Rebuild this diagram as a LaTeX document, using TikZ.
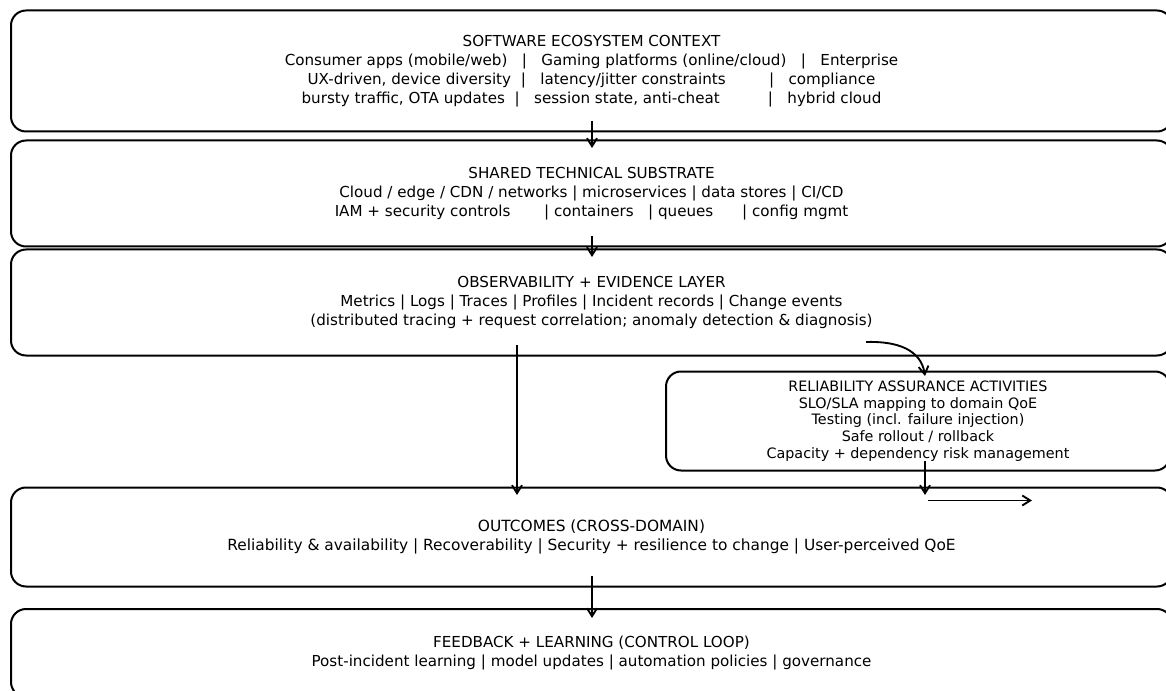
\documentclass[tikz,border=0pt]{standalone}
\usepackage{fontspec}
\setmainfont{DejaVu Sans}
\usetikzlibrary{arrows.meta}

\tikzset{every picture/.style={line width=0.75pt}}
\tikzset{
  layerbox/.style={draw, rounded corners=11.25pt, line width=1.5pt, align=center, inner sep=0pt,
    font=\fontsize{11.35}{14.25}\selectfont},
  actbox/.style={layerbox, font=\fontsize{10.75}{12.6}\selectfont},
  flow/.style={line width=1.4pt, -{Straight Barb[length=6pt,width=7.5pt]}}
}

\begin{document}
\begin{tikzpicture}[x=0.75pt,y=0.75pt,yscale=-1,xscale=1]
\useasboundingbox (0,0) rectangle (1166,691);

%Rounded Rect [id:ctx]
\node (ctx) [layerbox, minimum width=870.75pt, minimum height=90.75pt] at (591.5,71)
  {SOFTWARE ECOSYSTEM CONTEXT\\
   Consumer apps (mobile/web)\ \ \ |\ \ \ Gaming platforms (online/cloud)\ \ \ |\ \ \ Enterprise\\
   UX-driven, device diversity\ \ |\ \ \ latency/jitter constraints\ \ \ \ \ \ \ \ \ |\ \ \ compliance\\
   bursty traffic, OTA updates\ \ |\ \ \ session state, anti-cheat\ \ \ \ \ \ \ \ \ \ |\ \ \ hybrid cloud};
%Rounded Rect [id:sub]
\node (sub) [layerbox, minimum width=870.75pt, minimum height=79.5pt] at (591.5,193.5)
  {SHARED TECHNICAL SUBSTRATE\\
   Cloud / edge / CDN / networks | microservices | data stores | CI/CD\\
   IAM + security controls\ \ \ \ \ \ \ | containers\ \ \ | queues\ \ \ \ \ \ | config mgmt};
%Rounded Rect [id:obs]
\node (obs) [layerbox, minimum width=870.75pt, minimum height=79.5pt] at (591.5,302.5)
  {OBSERVABILITY + EVIDENCE LAYER\\
   Metrics | Logs | Traces | Profiles | Incident records | Change events\\
   (distributed tracing + request correlation; anomaly detection \& diagnosis)};
%Rounded Rect [id:rel]
\node (rel) [actbox, minimum width=378pt, minimum height=74.25pt] at (918,421)
  {RELIABILITY ASSURANCE ACTIVITIES\\
   SLO/SLA mapping to domain QoE\\
   Testing (incl. failure injection)\\
   Safe rollout / rollback\\
   Capacity + dependency risk management};
%Rounded Rect [id:out]
\node (out) [layerbox, minimum width=870.75pt, minimum height=74.25pt,
  font=\fontsize{11.55}{14.25}\selectfont] at (591.5,537)
  {OUTCOMES (CROSS-DOMAIN)\\
   Reliability \& availability | Recoverability | Security + resilience to change | User-perceived QoE};
%Rounded Rect [id:fb]
\node (fb) [layerbox, minimum width=870.75pt, minimum height=66pt] at (591.5,653)
  {FEEDBACK + LEARNING (CONTROL LOOP)\\
   Post-incident learning | model updates | automation policies | governance};

% Connector ends
\coordinate (ctxs) at (592,121);
\coordinate (subn) at (592,148);
\coordinate (subs) at (592,236);
\coordinate (obsn) at (592,257);
\coordinate (obss) at (517,345);
\coordinate (outn) at (517,495);
\coordinate (obse) at (866,342);
\coordinate (reln) at (925,376);
\coordinate (rels) at (925,461);
\coordinate (outr) at (925,495);
\coordinate (loopa) at (928,500.5);
\coordinate (loopb) at (1032,500.5);
\coordinate (outs) at (592,576);
\coordinate (fbn) at (592,618);

%Straight Lines
\draw [flow] (ctxs) -- (subn);
\draw [flow] (subs) -- (obsn);
\draw [flow] (obss) -- (outn);
%Curve Lines
\draw [flow] (obse) .. controls (898,341) and (921,350) .. (reln);
%Straight Lines
\draw [flow] (rels) -- (outr);
\draw [flow] (loopa) -- (loopb);
\draw [flow] (outs) -- (fbn);

\end{tikzpicture}
\end{document}
